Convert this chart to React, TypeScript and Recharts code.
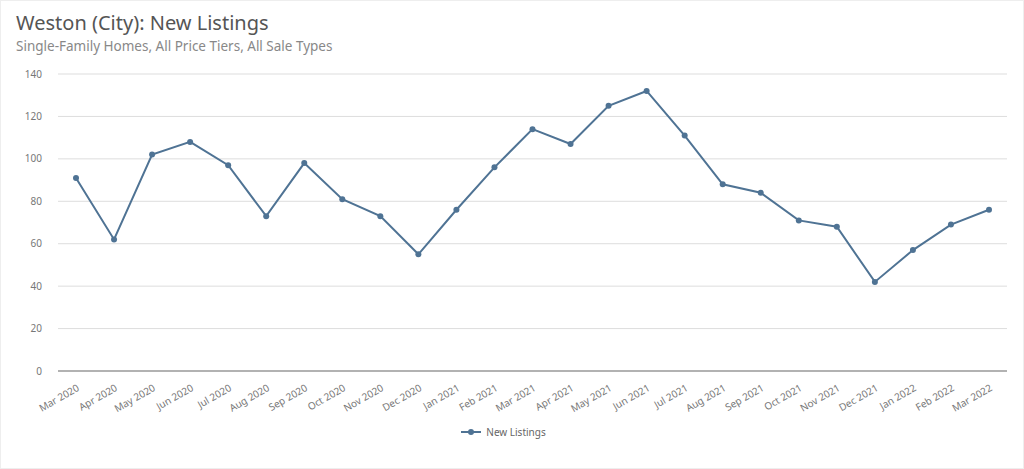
import { LineChart, Line, XAxis, YAxis, CartesianGrid, Legend } from "recharts";

const months = [
  "Mar 2020", "Apr 2020", "May 2020", "Jun 2020", "Jul 2020", "Aug 2020",
  "Sep 2020", "Oct 2020", "Nov 2020", "Dec 2020", "Jan 2021", "Feb 2021",
  "Mar 2021", "Apr 2021", "May 2021", "Jun 2021", "Jul 2021", "Aug 2021",
  "Sep 2021", "Oct 2021", "Nov 2021", "Dec 2021", "Jan 2022", "Feb 2022",
  "Mar 2022",
];

const newListings = [
  91, 62, 102, 108, 97, 73, 98, 81, 73, 55, 76, 96,
  114, 107, 125, 132, 111, 88, 84, 71, 68, 42, 57, 69, 76,
];

const yTicks = [0, 20, 40, 60, 80, 100, 120, 140];

const data = months.map((m, i) => ({ month: m, value: newListings[i] }));

const FONT = "'Noto Sans', 'Open Sans', sans-serif";
const LINE = "#4f7394";

function MonthTick(props: any) {
  const { x, y, payload } = props;
  return (
    <g transform={`translate(${x},${y + 4})`}>
      <text
        x={0}
        y={0}
        dy={8}
        textAnchor="end"
        fill="#777"
        fontSize={10}
        fontFamily={FONT}
        transform="rotate(-30)"
      >
        {payload.value}
      </text>
    </g>
  );
}

// legend: short line with a filled dot, like the series marker
function LegendContent(props: any) {
  const { payload } = props;
  return (
    <div style={{ display: "flex", justifyContent: "center", alignItems: "center", marginTop: 4 }}>
      {(payload || []).map((p: any) => (
        <div key={p.value} style={{ display: "flex", alignItems: "center", gap: 5 }}>
          <svg width={20} height={10}>
            <line x1={0} y1={5} x2={20} y2={5} stroke={p.color} strokeWidth={2} />
            <circle cx={10} cy={5} r={3} fill={p.color} />
          </svg>
          <span style={{ color: "#666", fontSize: 10, fontFamily: FONT }}>{p.value}</span>
        </div>
      ))}
    </div>
  );
}

export default function App() {
  return (
    <div
      style={{
        position: "absolute",
        left: 0,
        top: 0,
        width: 1024,
        height: 469,
        background: "#fff",
        fontFamily: FONT,
        boxSizing: "border-box",
        border: "1px solid #eee",
      }}
    >
      <div style={{ position: "absolute", left: 15, top: 8, fontSize: 20, color: "#555" }}>
        Weston (City): New Listings
      </div>
      <div style={{ position: "absolute", left: 15, top: 36, fontSize: 13.5, color: "#888" }}>
        Single-Family Homes, All Price Tiers, All Sale Types
      </div>
      <div style={{ position: "absolute", left: -1, top: -1 }}>
        <LineChart
          width={1024}
          height={469}
          data={data}
          margin={{ top: 74, right: 17, left: 0, bottom: 20 }}
        >
          <CartesianGrid vertical={false} stroke="#ddd" />
          <XAxis
            dataKey="month"
            interval={0}
            tick={<MonthTick />}
            tickLine={false}
            axisLine={{ stroke: "#777" }}
            padding={{ left: 18, right: 18 }}
            height={50}
          />
          <YAxis
            domain={[0, 140]}
            ticks={yTicks}
            axisLine={false}
            tickLine={false}
            width={58}
            tick={{ fill: "#777", fontSize: 10, fontFamily: FONT }}
            tickMargin={10}
          />
          <Legend verticalAlign="bottom" height={28} content={<LegendContent />} />
          <Line
            type="linear"
            dataKey="value"
            name="New Listings"
            stroke={LINE}
            strokeWidth={2}
            dot={{ r: 3, fill: LINE, stroke: LINE, strokeWidth: 0 }}
            isAnimationActive={false}
          />
        </LineChart>
      </div>
    </div>
  );
}
